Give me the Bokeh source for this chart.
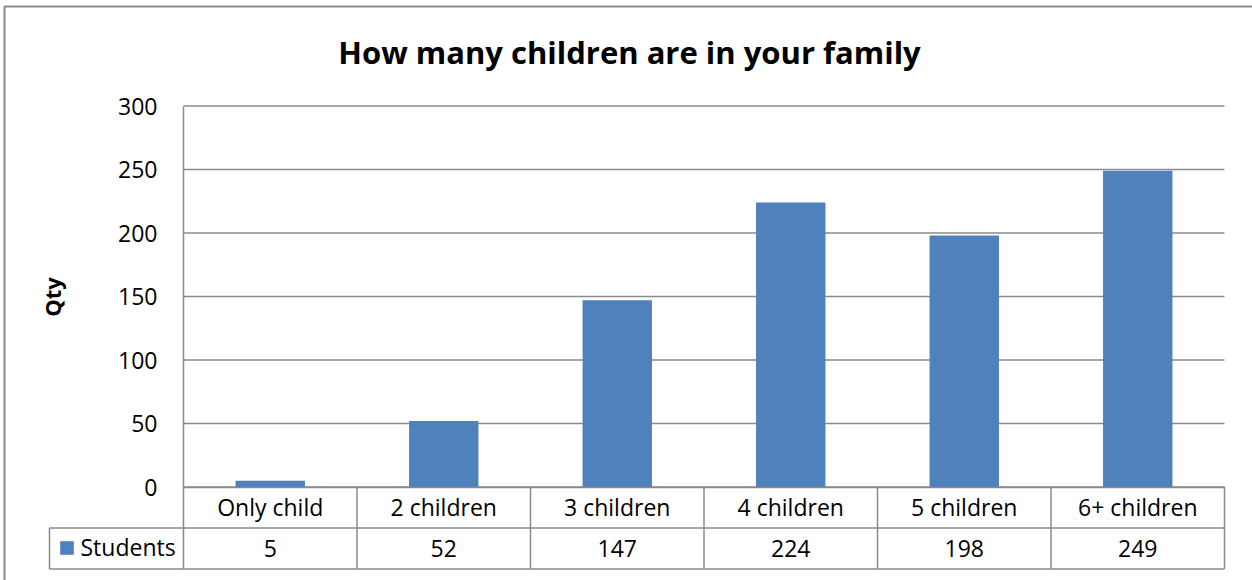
from bokeh.plotting import figure
from bokeh.models import (Range1d, LinearAxis, FixedTicker, Grid, Label, Legend,
                          LegendItem)
from bokeh.embed import file_html
from bokeh.resources import INLINE
from bokeh.core.properties import value

# ---------------- data ----------------
title = "How many children are in your family"
categories = ["Only child", "2 children", "3 children", "4 children", "5 children", "6+ children"]
students = [5, 52, 147, 224, 198, 249]
series_name = "Students"
y_ticks = [0, 50, 100, 150, 200, 250, 300]
y_label = "Qty"

# ---------------- layout (pixels) ----------------
W, H = 1252, 580
PX_LEFT, PX_RIGHT = 183, 1224     # plot area left / right
PX_TOP, PX_ZERO = 105.5, 486.5    # pixel row of top tick and of zero
PX_ROW_MID, PX_ROW_BOT = 527.5, 568.5
PX_LEG_LEFT = 49
FONT = "Open Sans"
GRAY = "#8a8a8a"
BLUE = "#4f81bd"

n = len(categories)
ymax = y_ticks[-1]
sx = (PX_RIGHT - PX_LEFT) / n
sy = (PX_ZERO - PX_TOP) / ymax


def dx(px):
    return (px - PX_LEFT) / sx


def dy(py):
    return (PX_ZERO - py) / sy


p = figure(width=W, height=H, x_range=Range1d(dx(0), dx(W)), y_range=Range1d(dy(H), dy(0)),
           min_border=0, x_axis_location=None, y_axis_location=None,
           toolbar_location=None, output_backend="svg", outline_line_color=None)
p.background_fill_color = "white"
p.border_fill_color = "white"
# drop default grids
for r in list(p.center):
    if isinstance(r, Grid):
        p.center.remove(r)

centers = [i + 0.5 for i in range(n)]

# horizontal gridlines, only across the plot area
p.segment(x0=[0] * len(y_ticks), x1=[n] * len(y_ticks), y0=y_ticks, y1=y_ticks,
          line_color=GRAY, line_width=1.5)

# bars
bars = p.vbar(x=centers, top=students, bottom=0, width=0.4, fill_color=BLUE, line_color=None)

# data-table lines
y_mid, y_bot = dy(PX_ROW_MID), dy(PX_ROW_BOT)
x_leg = dx(PX_LEG_LEFT)
bounds_x = list(range(n + 1))
p.segment(x0=bounds_x, y0=[0] * (n + 1), x1=bounds_x, y1=[y_bot] * (n + 1),
          line_color=GRAY, line_width=1.5)
p.segment(x0=[x_leg, x_leg, x_leg], y0=[y_mid, y_bot, y_mid], x1=[n, n, x_leg], y1=[y_mid, y_bot, y_bot],
          line_color=GRAY, line_width=1.5)

# value row
p.text(x=centers, y=[dy((PX_ROW_MID + PX_ROW_BOT) / 2)] * n, text=[str(v) for v in students],
       text_align="center", text_baseline="middle", text_font=value(FONT),
       text_font_size="23px", text_color="black")

# outer border (left & top visible)
p.line(x=[dx(4), dx(4), dx(W)], y=[dy(H), dy(6), dy(6)], line_color=GRAY, line_width=2)

# y axis
yticker = FixedTicker(ticks=y_ticks)
yaxis = LinearAxis(fixed_location=0, ticker=yticker, bounds=(0, ymax),
                   axis_label=y_label, axis_label_standoff=48,
                   axis_label_text_font=FONT, axis_label_text_font_style="bold",
                   axis_label_text_font_size="22px", axis_label_text_color="black",
                   major_label_text_font=FONT, major_label_text_font_size="23px",
                   major_label_text_color="black", major_label_standoff=26,
                   major_tick_out=0, major_tick_in=0, minor_tick_out=0, minor_tick_in=0,
                   axis_line_color=GRAY, axis_line_width=1.5)
p.add_layout(yaxis, "left")

# x axis (category row of the data table)
xaxis = LinearAxis(fixed_location=0, ticker=FixedTicker(ticks=centers), bounds=(0, n),
                   major_label_overrides={c: lab for c, lab in zip(centers, categories)},
                   major_label_text_font=FONT, major_label_text_font_size="23px",
                   major_label_text_color="black", major_label_standoff=4,
                   major_tick_out=0, major_tick_in=0, minor_tick_out=0, minor_tick_in=0,
                   axis_line_color=GRAY, axis_line_width=1.5)
p.add_layout(xaxis, "below")

# title
p.add_layout(Label(x=dx(629), y=dy(51), text=title, text_align="center", text_baseline="middle",
                   text_font=FONT, text_font_style="bold", text_font_size="31px", text_color="black"))

# legend in the data table
legend = Legend(items=[LegendItem(label=series_name, renderers=[bars])],
                location=(57.5, 17), border_line_color=None, background_fill_alpha=0,
                padding=0, margin=0, spacing=0, glyph_width=17, glyph_height=17,
                label_standoff=6, label_text_font=FONT, label_text_font_size="23px",
                label_text_color="black")
p.add_layout(legend)

open("out.html", "w").write(file_html(p, INLINE))
